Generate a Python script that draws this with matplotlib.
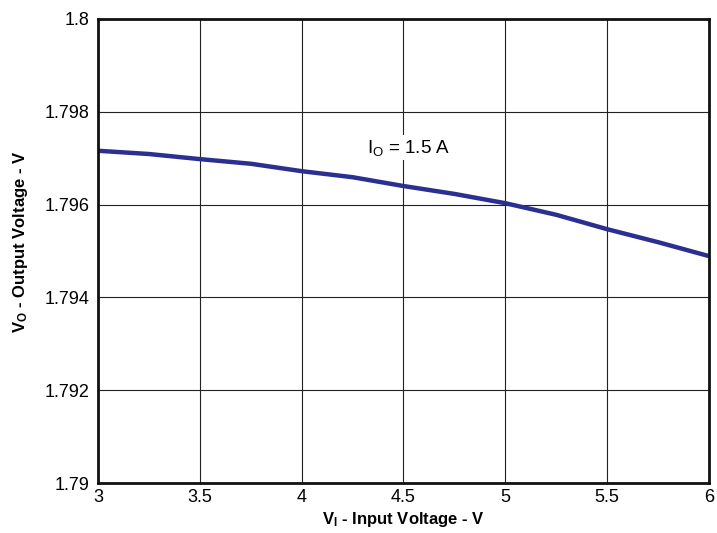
import matplotlib
matplotlib.use("Agg")
import matplotlib.pyplot as plt
from matplotlib.ticker import FuncFormatter

# données
vin = [3.0, 3.25, 3.5, 3.75, 4.0, 4.25, 4.5, 4.75, 5.0, 5.25, 5.5, 5.75, 6.0]
vout = [1.79716, 1.79709, 1.79698, 1.79688, 1.79672, 1.79659, 1.79640,
        1.79623, 1.79603, 1.79578, 1.79547, 1.79519, 1.79489]
xticks = [3, 3.5, 4, 4.5, 5, 5.5, 6]
yticks = [1.79, 1.792, 1.794, 1.796, 1.798, 1.8]

plt.rcParams['font.family'] = ['Liberation Sans', 'DejaVu Sans']
plt.rcParams['mathtext.fontset'] = 'custom'
plt.rcParams['mathtext.rm'] = 'Liberation Sans'
plt.rcParams['mathtext.bf'] = 'Liberation Sans:bold'
plt.rcParams['mathtext.it'] = 'Liberation Sans:italic'

fig = plt.figure(figsize=(7.17, 5.33), dpi=100)
ax = fig.add_axes([0.1367, 0.0938, 0.8521, 0.8706])

ax.plot(vin, vout, color='#2b2f8f', linewidth=3.2, solid_capstyle='butt')

ax.set_xlim(3, 6)
ax.set_ylim(1.79, 1.8)
ax.set_xticks(xticks)
ax.set_yticks(yticks)
ax.xaxis.set_major_formatter(FuncFormatter(lambda v, p: f"{v:g}"))
ax.yaxis.set_major_formatter(FuncFormatter(lambda v, p: f"{v:g}"))
ax.tick_params(axis='both', length=0, labelsize=13)
ax.tick_params(axis='x', pad=4)
ax.tick_params(axis='y', pad=6)
ax.grid(True, color='#222222', linewidth=0.8)
for s in ax.spines.values():
    s.set_linewidth(2)
    s.set_color('#111111')

ax.set_xlabel(r"V$_\mathbf{I}$ - Input Voltage - V", fontsize=12,
              fontweight='bold', labelpad=3)
ax.set_ylabel(r"V$_\mathbf{O}$ - Output Voltage - V", fontsize=12,
              fontweight='bold')
ax.yaxis.set_label_coords(-0.111, 0.52)

ax.text(4.32, 1.79723, r"I$_\mathrm{O}$ = 1.5 A", fontsize=13.5,
        va='center', ha='left',
        bbox=dict(facecolor='white', edgecolor='none', pad=2))

fig.savefig("out.png", dpi=100)
